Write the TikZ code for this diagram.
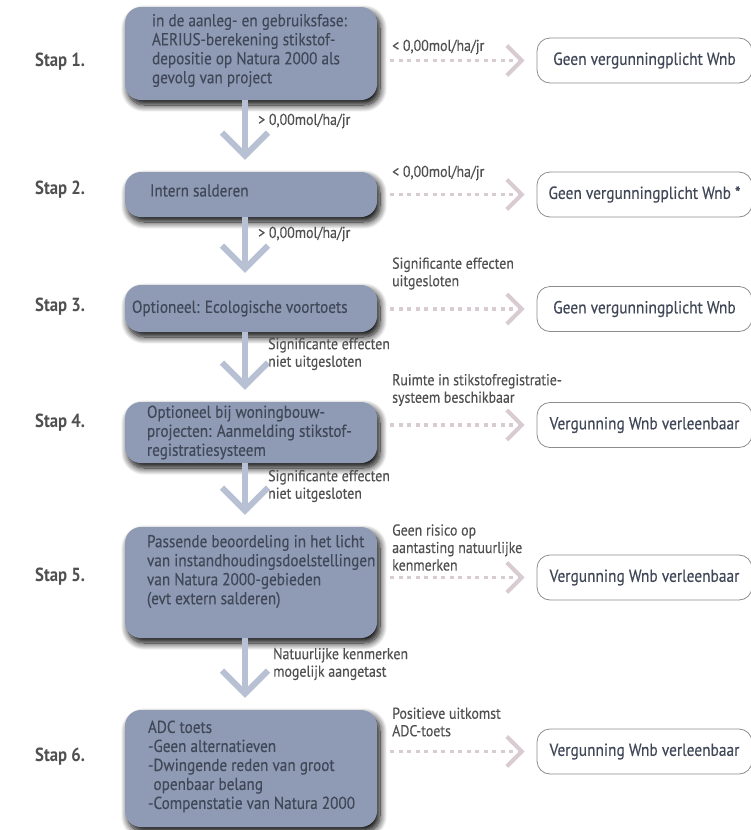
\documentclass[tikz,border=0pt]{standalone}
\usepackage{fontspec}
\setmainfont{PT Sans}[FakeStretch=0.88]
\newfontfamily\medfont{PT Sans}[FakeStretch=0.88,FakeBold=0.35]
\usetikzlibrary{arrows.meta,shadows.blur}
\definecolor{stepfill}{HTML}{8F9BB5}
\definecolor{boxink}{HTML}{404858}
\definecolor{flowline}{HTML}{B8C1D3}
\definecolor{sidedash}{HTML}{D8CCD2}
\definecolor{labelink}{HTML}{505050}
\definecolor{outline}{HTML}{8C8C8C}

\begin{document}
\begin{tikzpicture}[x=1pt,y=-1pt,
  stepbox/.style={fill=stepfill,rounded corners=16pt,minimum width=252pt,inner sep=0pt,
    blur shadow={shadow xshift=3pt,shadow yshift=-5pt,shadow blur radius=7pt,shadow opacity=100,shadow blur steps=12}},
  boxtext/.style={anchor=west,align=left,inner sep=0pt,text=boxink,font=\fontsize{17.3}{19}\medfont},
  staplabel/.style={anchor=west,inner sep=0pt,text=labelink,font=\fontsize{19}{21}\selectfont\bfseries},
  resultbox/.style={draw=outline,line width=0.8pt,rounded corners=13pt,minimum width=215pt,minimum height=45pt,
    text=boxink,font=\fontsize{17.5}{20}\medfont},
  flowlabel/.style={anchor=west,align=left,inner sep=0pt,text=labelink,font=\fontsize{15.8}{17.5}\medfont},
  flow/.style={draw=flowline,line width=6pt,shorten >=12pt,-{Straight Barb[length=23pt,width=46pt]}},
  side/.style={draw=sidedash,line width=3.5pt,dash pattern=on 4pt off 4.5pt,shorten <=13pt,shorten >=12pt,
    -{Straight Barb[length=15pt,width=30pt,line width=4pt]}}]
\useasboundingbox (0,0) rectangle (750,830);

% steps
\node[stepbox,minimum height=93pt] (s1) at (251,53.5) {};
\node[stepbox,minimum height=45pt] (s2) at (251,194.5) {};
\node[stepbox,minimum height=47pt] (s3) at (251,308.5) {};
\node[stepbox,minimum height=61pt] (s4) at (251,432.5) {};
\node[stepbox,minimum height=111pt] (s5) at (251,582.5) {};
\node[stepbox,minimum height=117pt] (s6) at (251,768.5) {};

\node[boxtext] (t1) at ([xshift=27pt,yshift=3pt]s1.west) {in de aanleg- en gebruiksfase:\\AERIUS-berekening stikstof-\\depositie op Natura 2000 als\\gevolg van project};
\node[boxtext] (t2) at ([xshift=25pt,yshift=4pt]s2.west) {Intern salderen};
\node[boxtext] (t3) at ([xshift=7pt]s3.west) {Optioneel: Ecologische voortoets};
\node[boxtext] (t4) at ([xshift=22pt]s4.west) {Optioneel bij woningbouw-\\projecten: Aanmelding stikstof-\\registratiesysteem};
\node[boxtext] (t5) at ([xshift=22pt,yshift=11pt]s5.west) {Passende beoordeling in het licht\\van instandhoudingsdoelstellingen\\van Natura 2000-gebieden\\(evt extern salderen)};
\node[boxtext] (t6) at ([xshift=23pt,yshift=2pt]s6.west) {ADC toets\\-Geen alternatieven\\-Dwingende reden van groot\\\phantom{-}openbaar belang\\-Compenstatie van Natura 2000};

\node[staplabel] (stap1) at (35,62) {Stap 1.};
\node[staplabel] (stap2) at (35,190) {Stap 2.};
\node[staplabel] (stap3) at (35,307) {Stap 3.};
\node[staplabel] (stap4) at (35,423) {Stap 4.};
\node[staplabel] (stap5) at (35,577) {Stap 5.};
\node[staplabel] (stap6) at (35,757) {Stap 6.};

% outcomes
\node[resultbox] (r1) at (644.5,60.5) {Geen vergunningplicht Wnb};
\node[resultbox] (r2) at (644.5,194.5) {Geen vergunningplicht Wnb *};
\node[resultbox] (r3) at (644.5,309) {Geen vergunningplicht Wnb};
\node[resultbox] (r4) at (644.5,425) {Vergunning Wnb verleenbaar};
\node[resultbox] (r5) at (644.5,577.5) {Vergunning Wnb verleenbaar};
\node[resultbox] (r6) at (644.5,751.5) {Vergunning Wnb verleenbaar};

% main flow
\foreach \a/\b in {s1/s2,s2/s3,s3/s4,s4/s5,s5/s6}
  \draw[flow] ([xshift=-6pt]\a.south) -- ([xshift=-6pt]\b.north);

\node[flowlabel] (f12) at (258,121) {> 0,00mol/ha/jr};
\node[flowlabel] (f23) at (258,234) {> 0,00mol/ha/jr};
\node[flowlabel] (f34) at (268,354) {Significante effecten\\niet uitgesloten};
\node[flowlabel] (f45) at (268,486) {Significante effecten\\niet uitgesloten};
\node[flowlabel] (f56) at (273,664) {Natuurlijke kenmerken\\mogelijk aangetast};

% side exits
\foreach \n in {1,...,6}
  \draw[side] (s\n.east |- r\n.west) -- (r\n.west);

\node[flowlabel] (l1) at (392,47) {< 0,00mol/ha/jr};
\node[flowlabel] (l2) at (392,173) {< 0,00mol/ha/jr};
\node[flowlabel] (l3) at (392,273.5) {Significante effecten\\uitgesloten};
\node[flowlabel] (l4) at (392,390) {Ruimte in stikstofregistratie-\\systeem beschikbaar};
\node[flowlabel] (l5) at (392,547.5) {Geen risico op\\aantasting natuurlijke\\kenmerken};
\node[flowlabel] (l6) at (392,722) {Positieve uitkomst\\ADC-toets};
\end{tikzpicture}
\end{document}
